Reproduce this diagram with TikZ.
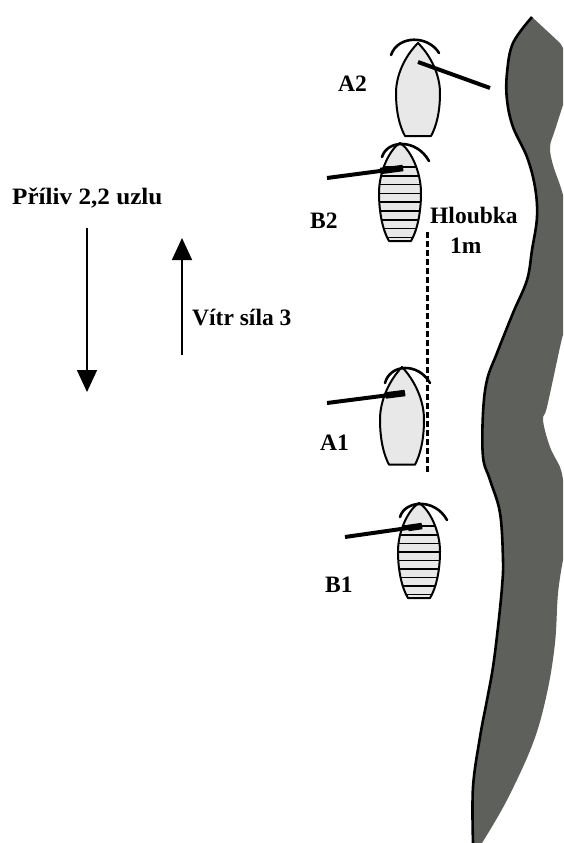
\documentclass[tikz,border=0pt]{standalone}
\usepackage{fontspec}
\usepackage{graphicx}
\setmainfont{Liberation Serif}
\usetikzlibrary{arrows.meta,calc}
\definecolor{landgrey}{RGB}{94,96,92}
\definecolor{hullgrey}{RGB}{232,232,232}
% outline of the plain hull, bow at the origin
\def\plainhull{(0,0) .. controls (13,13) and (22,32) .. (22,50) .. controls (22,70) and (18,84) .. (13,93) -- (-13,93) .. controls (-18,84) and (-22,70) .. (-22,50) .. controls (-22,32) and (-13,13) .. (0,0) -- cycle}
% outline of the striped hull, bow at the origin
\def\stripedhull{(0,0) .. controls (10,6) and (21,28) .. (21,50) .. controls (21,70) and (17,88) .. (11,98) -- (-11,98) .. controls (-17,88) and (-21,70) .. (-21,50) .. controls (-21,28) and (-10,6) .. (0,0) -- cycle}
\begin{document}
\begin{tikzpicture}[x=1pt,y=-1pt,
  lbl/.style={font=\bfseries\fontsize{23.5}{25}\selectfont, inner sep=0pt, anchor=base west},
  hulledge/.style={draw=black, line width=2pt, fill=hullgrey, line join=round},
  bowarc/.style={line width=2.6pt, line cap=round},
  boom/.style={line width=4pt},
  boomend/.style={line width=6.5pt},
  flow/.style={line width=1.6pt, -{Triangle[width=20pt,length=22pt]}},
  depth/.style={line width=3pt, dash pattern=on 6pt off 3pt},
  plainboat/.pic={\path[hulledge] \plainhull;},
  stripedboat/.pic={
    \fill[hullgrey] \stripedhull;
    \begin{scope}
      \clip \stripedhull;
      \foreach \s in {24,32.8,...,95}
        \draw[line width=1.6pt] (-25,\s) -- (25,\s);
    \end{scope}
    \draw[line width=2pt, line join=round] \stripedhull;
  }]
\useasboundingbox (0,0) rectangle (563,843);

% shore
\fill[landgrey]
  plot[smooth, tension=0.6] coordinates {(532,17) (513,43) (507,73) (507,100) (513,127) (527,157) (535,187) (537,217) (532,250) (527,280) (513,313) (497,353) (487,380) (483,413) (483,457) (490,480) (500,513) (503,560) (502,587) (498,627) (493,667) (487,700) (480,737) (473,787) (473,843)}
  -- plot[smooth, tension=0.6] coordinates {(482,843) (507,800) (533,743) (547,693) (555,643) (558,593) (563,560)}
  -- (563,480)
  -- plot[smooth, tension=0.6] coordinates {(563,480) (560,467) (550,447) (543,420) (547,407) (560,347) (563,335)}
  -- (563,195)
  -- plot[smooth, tension=0.6] coordinates {(563,195) (560,185) (553,165) (550,147) (555,130) (563,105)}
  -- (563,48) -- (560,43) -- cycle;
\draw[line width=2.6pt, line join=round]
  plot[smooth, tension=0.6] coordinates {(532,17) (513,43) (507,73) (507,100) (513,127) (527,157) (535,187) (537,217) (532,250) (527,280) (513,313) (497,353) (487,380) (483,413) (483,457) (490,480) (500,513) (503,560) (502,587) (498,627) (493,667) (487,700) (480,737) (473,787) (473,843)};

% depth line
\coordinate (dtop) at (427,232);
\coordinate (dbot) at (427,472);
\draw[depth] (dtop) -- (dbot);

% boats
\pic at (418,43) {plainboat};
\pic at (400,143) {stripedboat};
\pic[yscale=1.05] at (402,367) {plainboat};
\pic[yscale=0.97] at (419,503) {stripedboat};

% bow arcs
\draw[bowarc] (391,55) .. controls (398,35) and (428,35) .. (439,53);
\draw[bowarc] (382,157) .. controls (387,140) and (416,138) .. (429,161);
\draw[bowarc] (385,383) .. controls (390,364) and (418,362) .. (430,383);
\draw[bowarc] (400,517) .. controls (405,500) and (435,498) .. (447,520);

% booms
\coordinate (a2m) at (418,62);  \coordinate (a2e) at (490,88);
\coordinate (b2m) at (403,168); \coordinate (b2e) at (327,178);
\coordinate (a1m) at (405,393); \coordinate (a1e) at (327,403);
\coordinate (b1m) at (422,526); \coordinate (b1e) at (345,537);
\draw[boom] (a2m) -- (a2e);
\draw[boom] (b2e) -- (b2m);
\draw[boomend] ($(b2m)!0.3!(b2e)$) -- (b2m);
\draw[boom] (a1e) -- (a1m);
\draw[boomend] ($(a1m)!0.25!(a1e)$) -- (a1m);
\draw[boom] (b1e) -- (b1m);
\draw[boomend] ($(b1m)!0.18!(b1e)$) -- (b1m);

% tide and wind
\coordinate (tideS) at (87,228);
\coordinate (tideE) at (87,392);
\coordinate (windS) at (182,355);
\coordinate (windE) at (182,238);
\draw[flow] (tideS) -- (tideE);
\draw[flow] (windS) -- (windE);

% labels
\node[lbl] (tide) at (12,204) {\scalebox{1.07}[1]{Příliv 2,2 uzlu}};
\node[lbl] (wind) at (192,325) {Vítr síla 3};
\node[lbl] (lA2) at (338,92) {A2};
\node[lbl] (lB2) at (310,228) {B2};
\node[lbl] (lA1) at (320,450) {A1};
\node[lbl] (lB1) at (325,592) {B1};
\node[lbl] (depthA) at (430,223) {Hloubka};
\node[lbl] (depthB) at (450,253) {1m};
\end{tikzpicture}
\end{document}
